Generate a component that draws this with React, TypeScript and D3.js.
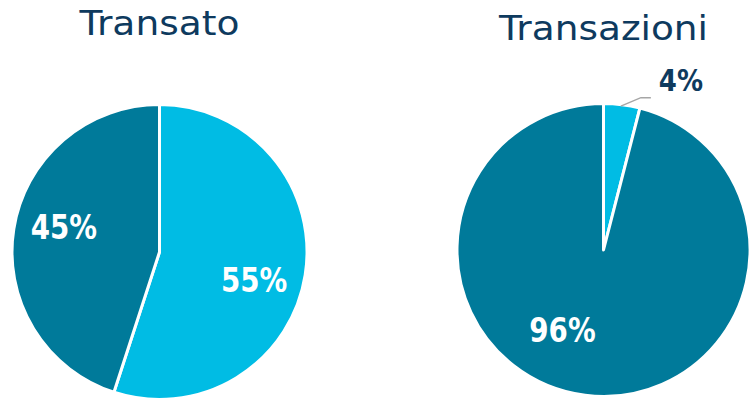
import React from "react";
import * as d3 from "d3";

const pieTitles = ["Transato", "Transazioni"];
const segmentNames = ["A", "B"];
const transatoValues = [55, 45];
const transazioniValues = [4, 96];
const colors = ["#00BCE4", "#007A9A"];

type PieCfg = {
  title: string;
  values: number[];
  cx: number;
  cy: number;
  r: number;
  titleY: number;
  titleLen: number;
  labelNudge: [number, number][];
  labelRatio: number;
};

const pies: PieCfg[] = [
  {
    title: pieTitles[0],
    values: transatoValues,
    cx: 159.5,
    cy: 252,
    r: 147.5,
    titleY: 35,
    titleLen: 160,
    labelRatio: 0.65,
    labelNudge: [[0, 13], [-1, -10]],
  },
  {
    title: pieTitles[1],
    values: transazioniValues,
    cx: 603.5,
    cy: 250,
    r: 146.5,
    titleY: 40,
    titleLen: 209,
    labelRatio: 0.6,
    labelNudge: [[0, 0], [-30, -7]],
  },
];

function Pie({ cfg }: { cfg: PieCfg }) {
  const pie = d3.pie<number>().sort(null).value((d) => d);
  const arcs = pie(cfg.values);
  const arc = d3.arc<d3.PieArcDatum<number>>().innerRadius(0).outerRadius(cfg.r);
  const labelArc = d3
    .arc<d3.PieArcDatum<number>>()
    .innerRadius(cfg.r * cfg.labelRatio)
    .outerRadius(cfg.r * cfg.labelRatio);
  const total = d3.sum(cfg.values);
  return (
    <g>
      <text
        x={cfg.cx}
        y={cfg.titleY}
        textAnchor="middle"
        fontFamily="'DejaVu Sans', sans-serif"
        fontWeight={400}
        fontSize={34}
        fill="#0E3A5E"
        textLength={cfg.titleLen}
        lengthAdjust="spacingAndGlyphs"
      >
        {cfg.title}
      </text>
      <g transform={`translate(${cfg.cx},${cfg.cy})`}>
        {arcs.map((a, i) => (
          <path key={segmentNames[i]} d={arc(a) || ""} fill={colors[i]} stroke="#fff" strokeWidth={3} strokeLinejoin="round" />
        ))}
        {arcs.map((a, i) => {
          const pct = Math.round((a.value / total) * 100);
          if (pct < 10) {
            const ang = (a.startAngle + a.endAngle) / 2;
            const ex = Math.sin(ang) * cfg.r;
            const ey = -Math.cos(ang) * cfg.r;
            const mx = ex + 19;
            const my = ey - 7;
            return (
              <g key={"l" + i}>
                <polyline
                  points={`${ex - 1},${ey + 1.5} ${mx},${my} ${mx + 10},${my}`}
                  fill="none"
                  stroke="#A6A6A6"
                  strokeWidth={1.5}
                />
                <g transform={`translate(${mx + 18},${my - 7}) scale(0.84,1)`}>
                  <text
                    x={0}
                    y={0}
                    fontFamily="'DejaVu Sans', sans-serif"
                    fontWeight={700}
                    fontSize={31}
                    fill="#0E3A5E"
                  >
                    {pct}%
                  </text>
                </g>
              </g>
            );
          }
          const [lx, ly] = labelArc.centroid(a);
          const [nx, ny] = cfg.labelNudge[i];
          return (
            <g key={"l" + i} transform={`translate(${lx + nx},${ly + ny}) scale(0.84,1)`}>
              <text
                x={0}
                y={0}
                dy="0.36em"
                textAnchor="middle"
                fontFamily="'DejaVu Sans', sans-serif"
                fontWeight={700}
                fontSize={33}
                fill="#fff"
              >
                {pct}%
              </text>
            </g>
          );
        })}
      </g>
    </g>
  );
}

export default function App() {
  return (
    <svg
      width={750}
      height={401}
      style={{ position: "absolute", left: 0, top: 0, background: "#fff" }}
    >
      {pies.map((p) => (
        <Pie key={p.title} cfg={p} />
      ))}
    </svg>
  );
}
